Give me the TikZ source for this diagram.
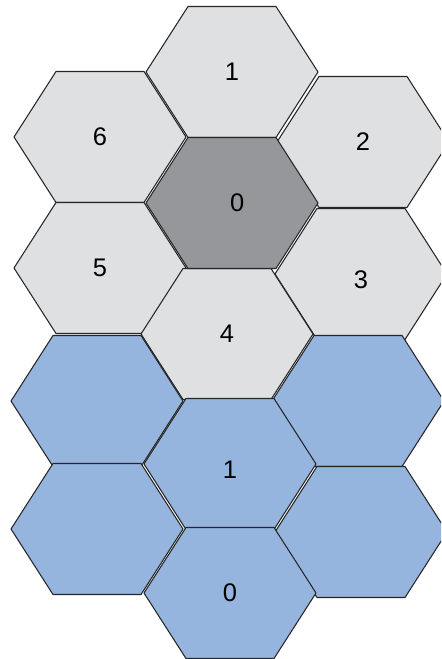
\documentclass[tikz,border=0pt]{standalone}
\usepackage{fontspec}
\setmainfont{Liberation Sans}
\definecolor{grisclaro}{RGB}{223,224,226}
\definecolor{grisoscuro}{RGB}{150,151,154}
\definecolor{azulcelda}{RGB}{149,180,222}
\begin{document}
\begin{tikzpicture}[
    x=0.02cm,
    y=0.02cm,
    font=\fontsize{14.5}{16}\selectfont,
    celda/.style={draw=black!85,line width=0.6pt,line join=round},
    etiqueta/.style={inner sep=0pt}
]
    % Marco
    \clip (0,0) rectangle (441,659);
    \fill[white] (0,0) rectangle (441,659);

    % Celdas: centro x, centro y, relleno, nombre
    \foreach \cx/\cy/\col/\nom in {
        232/587/grisclaro/c1,
        100/522/grisclaro/c6,
        363/517/grisclaro/c2,
        100/391/grisclaro/c5,
        361/385/grisclaro/c3,
        227/325/grisclaro/c4,
        232/456/grisoscuro/c0,
        97/258/azulcelda/b6,
        358/258/azulcelda/b2,
        97/130/azulcelda/b5,
        361/127/azulcelda/b3,
        230/195/azulcelda/b1,
        230/66/azulcelda/b0}{
        \draw[celda,fill=\col] (\cx-86,\cy) -- (\cx-44,\cy+65.5)
            -- (\cx+44,\cy+65.5) -- (\cx+86,\cy) -- (\cx+44,\cy-65.5)
            -- (\cx-44,\cy-65.5) -- cycle;
        \coordinate (\nom) at (\cx,\cy);
    }

    % Numeros
    \node[etiqueta] (n0) at ([xshift=3]c0) {0};
    \node[etiqueta] (n1) at (c1) {1};
    \node[etiqueta] (n2) at (c2) {2};
    \node[etiqueta] (n3) at ([yshift=-3]c3) {3};
    \node[etiqueta] (n4) at (c4) {4};
    \node[etiqueta] (n5) at (c5) {5};
    \node[etiqueta] (n6) at (c6) {6};
    \node[etiqueta] (m1) at ([yshift=-3]b1) {1};
    \node[etiqueta] (m0) at (b0) {0};
\end{tikzpicture}
\end{document}
